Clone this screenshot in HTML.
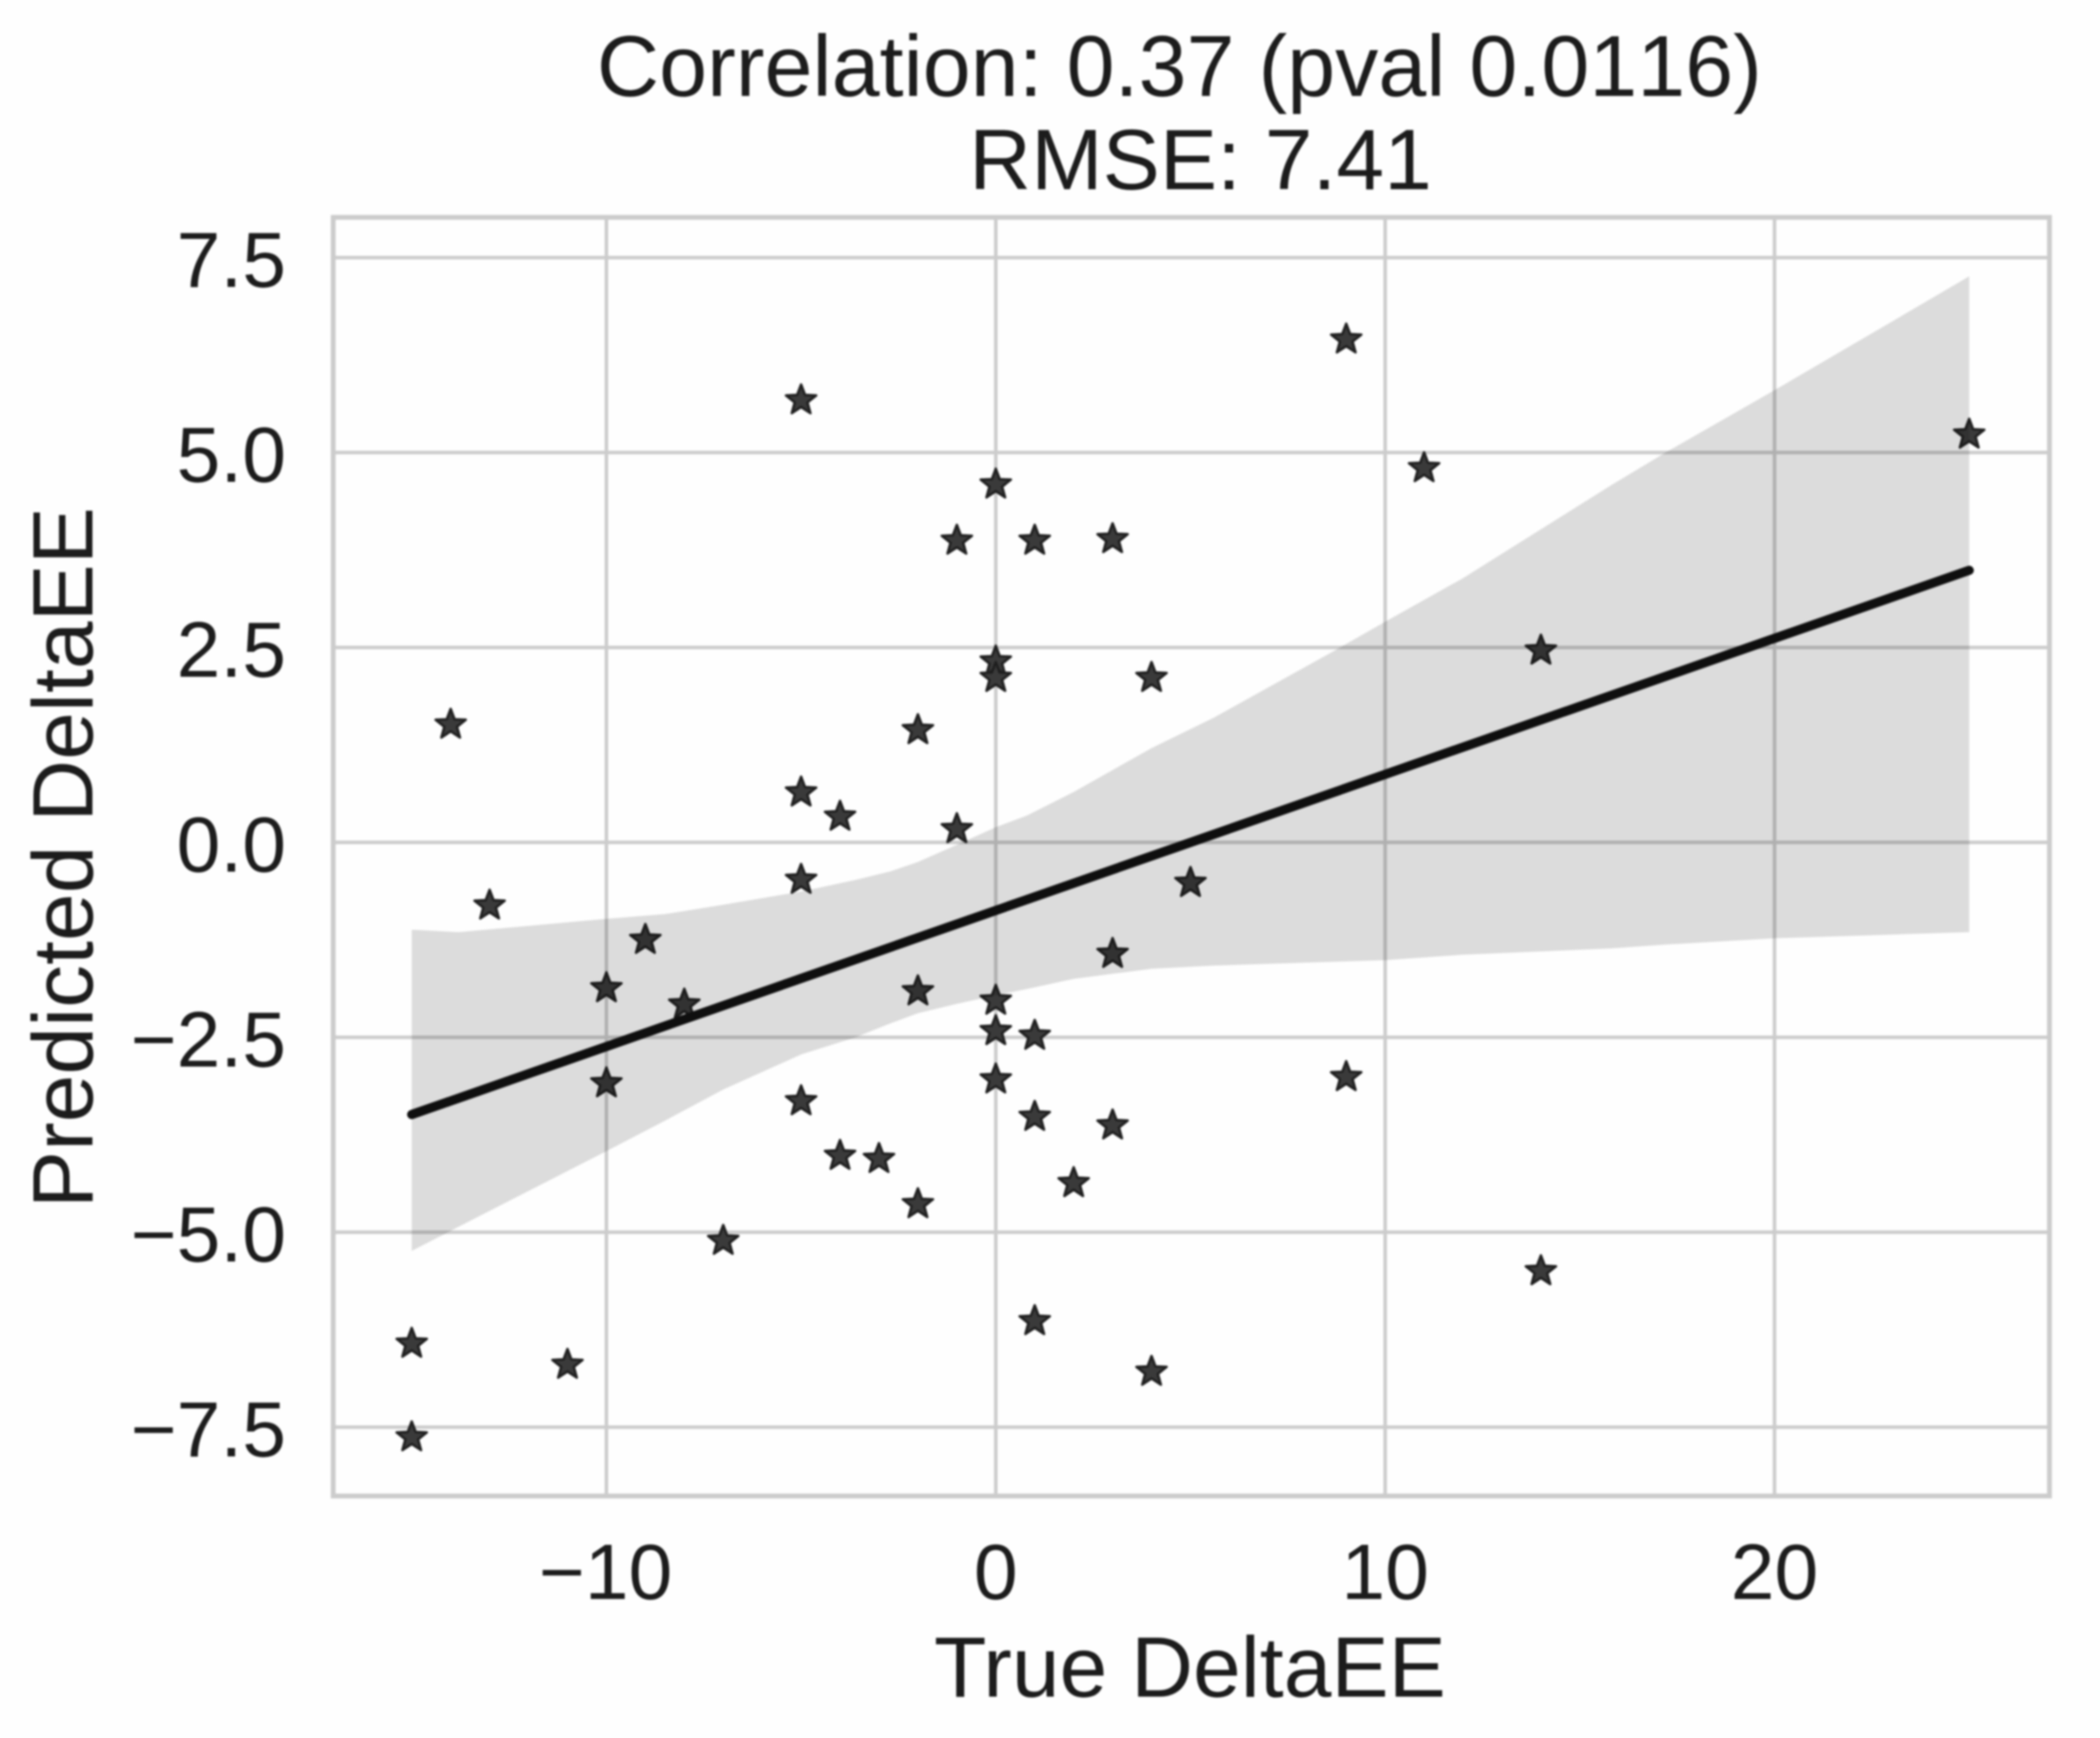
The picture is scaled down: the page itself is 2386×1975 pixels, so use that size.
<!DOCTYPE html>
<html lang="en">
<head>
<meta charset="utf-8">
<title>True vs Predicted DeltaEE</title>
<style>
  html, body { margin: 0; padding: 0; background: #fefefe; }
  #chart { display: block; filter: blur(1px); }
  text { font-family: "Liberation Sans", Arial, sans-serif; fill: #1c1c1c; }
</style>
</head>
<body>
<svg id="chart" xmlns="http://www.w3.org/2000/svg" width="2386" height="1975" viewBox="0 0 2386 1975">
  <rect x="0" y="0" width="2386" height="1975" fill="#fefefe"></rect>
  <g id="grid"></g>
  <g id="points"></g>
  <path id="band" fill="#000" fill-opacity="0.135"></path>
  <path id="fit" fill="none" stroke="#0f0f0f" stroke-width="10.5" stroke-linecap="round"></path>
  <rect x="378.6" y="247" width="1950" height="1453" fill="none" stroke="#cccccc" stroke-width="5.5"></rect>
  <g id="xticks"></g>
  <g id="yticks"></g>
  <text x="1340" y="109" font-size="98" text-anchor="middle" style="font-kerning:none">Correlation: 0.37 (pval 0.0116)</text>
  <text x="1364" y="215" font-size="97.5" text-anchor="middle">RMSE: 7.41</text>
  <text x="1352" y="1928" font-size="97.5" text-anchor="middle">True DeltaEE</text>
  <text transform="translate(105 974.5) rotate(-90)" font-size="97.5" text-anchor="middle">Predicted DeltaEE</text>
</svg>
<script>
const xTickValues = [-10, 0, 10, 20];
const xTickLabels = ["\u221210", "0", "10", "20"];
const yTickValues = [7.5, 5, 2.5, 0, -2.5, -5, -7.5];
const yTickLabels = ["7.5", "5.0", "2.5", "0.0", "\u22122.5", "\u22125.0", "\u22127.5"];

const trueValues = [-15, -15, -14, -13, -11, -10, -10, -9, -8, -7, -5, -5, -5, -5, -4, -4, -3, -2, -2, -2, -1, -1, 0, 0, 0, 0, 0, 0, 1, 1, 1, 1, 2, 3, 3, 3, 4, 4, 5, 9, 9, 11, 14, 14, 25];
const predictedValues = [-6.43, -7.63, 1.51, -0.81, -6.70, -1.87, -3.09, -1.25, -2.08, -5.11, 5.67, 0.64, -0.48, -3.32, 0.33, -4.02, -4.06, 1.44, -1.91, -4.64, 3.87, 0.17, 4.59, 2.32, 2.11, -2.03, -2.42, -3.04, 3.87, -2.48, -3.52, -6.14, -4.37, 3.89, -1.43, -3.63, 2.11, -6.79, -0.52, 6.45, -3.01, 4.80, 2.46, -5.50, 5.23];

const fitX = [-15, 25];
const fitY = [-3.49, 3.49];

const bandX = [-15, -13.8, -12, -10, -8.5, -7, -5, -3.6, -2.7, -2, -1, 0, 0.8, 2, 4, 5.6, 8.7, 10, 12, 15.8, 17.2, 20, 25];
const bandUpper = [-1.12, -1.15, -1.07, -0.98, -0.92, -0.80, -0.63, -0.48, -0.37, -0.25, -0.03, 0.195, 0.345, 0.647, 1.21, 1.6, 2.46, 2.83, 3.39, 4.58, 5.0, 5.8, 7.26];
const bandLower = [-5.24, -4.93, -4.47, -3.96, -3.57, -3.17, -2.72, -2.5, -2.32, -2.19, -2.07, -1.96, -1.88, -1.75, -1.62, -1.58, -1.53, -1.51, -1.44, -1.36, -1.31, -1.23, -1.15];

const SVG_NS = "http://www.w3.org/2000/svg";
const plot = { left: 378.6, right: 2328.6, top: 247, bottom: 1700 };
function sx(v) { return 1131.4 + 44.24 * v; }
function sy(v) { return 957.3 - 88.6 * v; }
function make(tag) { return document.createElementNS(SVG_NS, tag); }

const gridG = document.getElementById("grid");
xTickValues.forEach(function (v) {
  const l = make("line");
  
  
  l.setAttribute("x1", sx(v));
  l.setAttribute("x2", sx(v));
  l.setAttribute("y1", plot.top);
  l.setAttribute("y2", plot.bottom);
  l.setAttribute("stroke", "#cccccc");
  l.setAttribute("stroke-width", "4");
  gridG.appendChild(l);
});
yTickValues.forEach(function (v) {
  const l = make("line");
  
  
  l.setAttribute("x1", plot.left);
  l.setAttribute("x2", plot.right);
  l.setAttribute("y1", sy(v));
  l.setAttribute("y2", sy(v));
  l.setAttribute("stroke", "#cccccc");
  l.setAttribute("stroke-width", "4");
  gridG.appendChild(l);
});

function starPoints(cx, cy, R, r) {
  const out = [];
  for (let i = 0; i < 10; i++) {
    const rad = i % 2 === 0 ? R : r;
    const a = -Math.PI / 2 + i * Math.PI / 5;
    out.push((cx + rad * Math.cos(a)).toFixed(2) + "," + (cy + rad * Math.sin(a)).toFixed(2));
  }
  return out.join(" ");
}
const pointsG = document.getElementById("points");
trueValues.forEach(function (v, i) {
  const s = make("polygon");
  
  
  s.setAttribute("points", starPoints(sx(v), sy(predictedValues[i]), 18, 7.6));
  s.setAttribute("fill", "#3a3a3a");
  s.setAttribute("stroke", "#1e1e1e");
  s.setAttribute("stroke-width", "2.8");
  s.setAttribute("stroke-linejoin", "round");
  pointsG.appendChild(s);
});

let bandPath = "";
bandX.forEach(function (v, i) {
  bandPath += (i === 0 ? "M" : "L") + sx(v).toFixed(2) + " " + sy(bandUpper[i]).toFixed(2);
});
for (let i = bandX.length - 1; i >= 0; i--) {
  bandPath += "L" + sx(bandX[i]).toFixed(2) + " " + sy(bandLower[i]).toFixed(2);
}
document.getElementById("band").setAttribute("d", bandPath + "Z");

let fitPath = "";
fitX.forEach(function (v, i) {
  fitPath += (i === 0 ? "M" : "L") + sx(v).toFixed(2) + " " + sy(fitY[i]).toFixed(2);
});
document.getElementById("fit").setAttribute("d", fitPath);

const xTicksG = document.getElementById("xticks");
xTickValues.forEach(function (v, i) {
  const t = make("text");
  
  
  t.setAttribute("x", sx(v) - (v < 0 ? 1 : 0));
  t.setAttribute("y", 1817);
  t.setAttribute("font-size", "89.5");
  t.setAttribute("text-anchor", "middle");
  t.textContent = xTickLabels[i];
  xTicksG.appendChild(t);
});
const yTicksG = document.getElementById("yticks");
yTickValues.forEach(function (v, i) {
  const t = make("text");
  
  
  t.setAttribute("x", 325);
  t.setAttribute("y", sy(v) + 33);
  t.setAttribute("font-size", "89.5");
  t.setAttribute("text-anchor", "end");
  t.textContent = yTickLabels[i];
  yTicksG.appendChild(t);
});
</script>
</body>
</html>
